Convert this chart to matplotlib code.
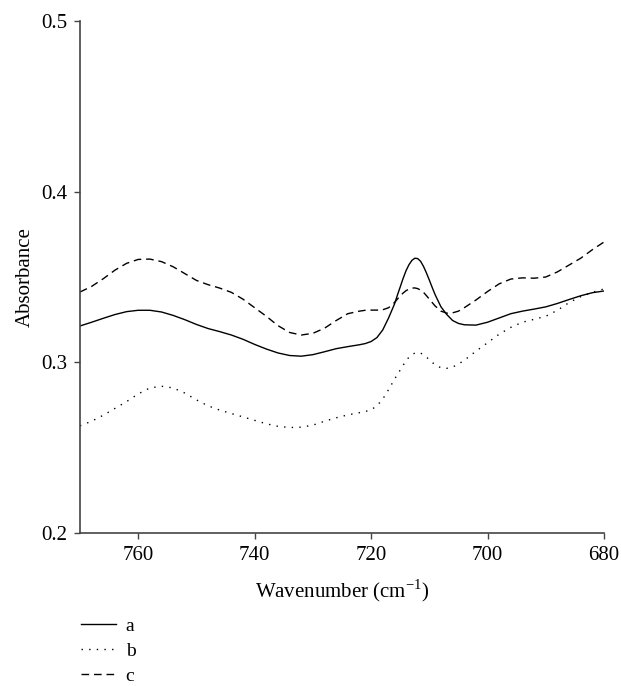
import matplotlib
matplotlib.use("Agg")
import matplotlib.pyplot as plt

wavenumber = [770, 768, 766, 764, 762, 760, 758, 756, 754, 752, 750, 748, 746, 744, 742,
              740, 738, 736, 734, 732, 730, 728, 726, 724, 722, 721, 720, 719, 718, 717,
              716, 715.5, 715, 714.5, 714, 713.5, 713, 712.5, 712, 711.5, 711, 710.5, 710,
              709.5, 709, 708, 707, 706, 705, 704, 702, 700,
              698, 696, 694, 692, 690, 688, 686, 684, 682, 680]

series_a = [0.3213, 0.3235, 0.3258, 0.3280, 0.3297, 0.3305, 0.3305, 0.3295, 0.3275, 0.3250,
            0.3222, 0.3198, 0.3180, 0.3160, 0.3135, 0.3105, 0.3078, 0.3055, 0.3040, 0.3036,
            0.3045, 0.3062, 0.3080, 0.3092, 0.3103, 0.3110, 0.3122, 0.3145, 0.3190, 0.3260,
            0.3340, 0.3392, 0.3442, 0.3492, 0.3537, 0.3572, 0.3597, 0.3610, 0.3608, 0.3592,
            0.3562, 0.3524, 0.3482, 0.3438, 0.3396, 0.3325, 0.3280,
            0.3245, 0.3228, 0.3220, 0.3218, 0.3235, 0.3260, 0.3285, 0.3300, 0.3312, 0.3325,
            0.3345, 0.3368, 0.3390, 0.3408, 0.3418]

series_b = [0.2628, 0.2655, 0.2690, 0.2730, 0.2770, 0.2815, 0.2850, 0.2860, 0.2850, 0.2820,
            0.2780, 0.2745, 0.2720, 0.2700, 0.2680, 0.2660, 0.2640, 0.2625, 0.2618, 0.2620,
            0.2632, 0.2655, 0.2675, 0.2692, 0.2705, 0.2712, 0.2722, 0.2745, 0.2785, 0.2840,
            0.2900, 0.2928, 0.2955, 0.2983, 0.3010, 0.3030, 0.3045, 0.3054, 0.3058, 0.3054,
            0.3045, 0.3031, 0.3015, 0.3000, 0.2985, 0.2968, 0.2965,
            0.2972, 0.2990, 0.3012, 0.3065, 0.3115, 0.3165, 0.3205, 0.3235, 0.3252, 0.3270,
            0.3305, 0.3350, 0.3385, 0.3410, 0.3430]

series_c = [0.3412, 0.3445, 0.3490, 0.3540, 0.3580, 0.3603, 0.3605, 0.3590, 0.3560, 0.3520,
            0.3480, 0.3455, 0.3435, 0.3410, 0.3370, 0.3320, 0.3270, 0.3215, 0.3175, 0.3160,
            0.3170, 0.3200, 0.3245, 0.3285, 0.3300, 0.3305, 0.3306, 0.3306, 0.3308, 0.3320,
            0.3350, 0.3370, 0.3390, 0.3406, 0.3420, 0.3429, 0.3435, 0.3436, 0.3432, 0.3423,
            0.3410, 0.3391, 0.3370, 0.3350, 0.3330, 0.3300, 0.3288,
            0.3290, 0.3300, 0.3320, 0.3365, 0.3415, 0.3460, 0.3488, 0.3495, 0.3493, 0.3500,
            0.3530, 0.3570, 0.3610, 0.3660, 0.3705]

labels = ["a", "b", "c"]
x_ticks = [760, 740, 720, 700, 680]
y_ticks = [0.2, 0.3, 0.4, 0.5]

plt.rcParams['font.family'] = ['Liberation Serif', 'DejaVu Serif']
plt.rcParams['mathtext.fontset'] = 'custom'
plt.rcParams['mathtext.rm'] = 'Liberation Serif'

fig = plt.figure(figsize=(6.21, 6.86), dpi=100)
ax = fig.add_axes([80/621, 1-533/686, (604-80)/621, (533-21)/686])

ax.plot(wavenumber, series_a, color='black', lw=1.0, linestyle='-', label=labels[0])
ax.plot(wavenumber, series_b, color='black', lw=1.0, linestyle=(0, (1, 4.5)), label=labels[1])
ax.plot(wavenumber, series_c, color='black', lw=1.0, linestyle=(0, (5.5, 3.5)), label=labels[2])

ax.set_xlim(770, 680)
ax.set_ylim(0.2, 0.5)
ax.set_xticks(x_ticks)
ax.set_yticks(y_ticks)
ax.set_xticklabels([str(t) for t in x_ticks])
ax.set_yticklabels([f"{t:.1f}" for t in y_ticks])

for s in ['top', 'right']:
    ax.spines[s].set_visible(False)
for s in ['left', 'bottom']:
    ax.spines[s].set_color('#444444')
    ax.spines[s].set_linewidth(1.2)
ax.tick_params(direction='out', length=4, width=1.0, color='#444444', labelsize=15, pad=5)

ax.set_xlabel("Wavenumber (cm$^{\\mathregular{-1}}$)", fontsize=15, labelpad=9)
ax.set_ylabel("Absorbance", fontsize=15, labelpad=5)

leg = fig.legend(loc='upper left', bbox_to_anchor=(81/621, 1-617/686), frameon=False,
                 fontsize=14, handlelength=1.8, handletextpad=0.5, labelspacing=0.38,
                 borderaxespad=0, borderpad=0)

fig.savefig("out.png", dpi=100)
